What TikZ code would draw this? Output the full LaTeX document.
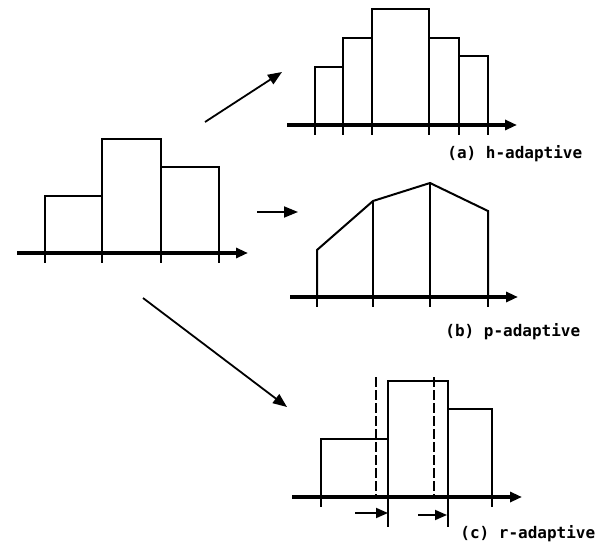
\documentclass[tikz,border=0pt]{standalone}
\usepackage{fontspec}
\newfontfamily\labelfont{DejaVu Sans Mono}
\usetikzlibrary{calc, arrows.meta}

\begin{document}
\begin{tikzpicture}[x=1pt, y=-1pt, thick,
  axis/.style={line width=3.6pt, -{Triangle[length=12pt,width=10pt]}},
  bar/.style={line width=2pt},
  tick/.style={line width=1.8pt},
  shiftline/.style={line width=2pt, dash pattern=on 10pt off 3pt},
  flow/.style={line width=1.8pt, -{Triangle[length=14pt,width=11pt]}},
  caption/.style={font=\labelfont\bfseries\fontsize{16}{18}\selectfont, anchor=west, inner sep=0pt}]
  \useasboundingbox (0,0) rectangle (605,545);
  % 原始网格：三个单元
  \foreach \xa/\xb/\yt in {45/102/196, 102/161/139, 161/219/167}
    \draw[bar] (\xa,253) rectangle (\xb,\yt);
  \coordinate (base-l) at (17,253);
  \coordinate (tip-l) at (248,253);
  \draw[axis] (base-l) -- (tip-l);
  \foreach \x in {45,102,161,219} \draw[tick] (\x,253) -- (\x,263);
  % (a) h-adaptive：单元细分
  \foreach \xa/\xb/\yt in {315/343/67, 343/372/38, 372/429/9, 429/459/38, 459/488/56}
    \draw[bar] (\xa,125) rectangle (\xb,\yt);
  \coordinate (base-a) at (287,125);
  \coordinate (tip-a) at (517,125);
  \draw[axis] (base-a) -- (tip-a);
  \foreach \x in {315,343,372,429,459,488} \draw[tick] (\x,125) -- (\x,135);
  \node[caption] (cap-a) at (447,154) {(a) h-adaptive};
  % (b) p-adaptive：提高阶次
  \draw[bar] (317,297) -- (317,250) -- (373,201) -- (430,183) -- (488,211) -- (488,297);
  \foreach \x/\yt in {373/201, 430/183} \draw[bar] (\x,297) -- (\x,\yt);
  \coordinate (base-b) at (290,297);
  \coordinate (tip-b) at (518,297);
  \draw[axis] (base-b) -- (tip-b);
  \foreach \x in {317,373,430,488} \draw[tick] (\x,297) -- (\x,307);
  \node[caption] (cap-b) at (445,332) {(b) p-adaptive};
  % (c) r-adaptive：节点移动
  \foreach \xa/\xb/\yt in {321/388/439, 388/448/381, 448/492/409}
    \draw[bar] (\xa,497) rectangle (\xb,\yt);
  \foreach \x in {376,434} \draw[shiftline] (\x,377) -- (\x,497);
  \coordinate (base-c) at (292,497);
  \coordinate (tip-c) at (522,497);
  \draw[axis] (base-c) -- (tip-c);
  \foreach \x/\yb in {321/507, 388/527, 448/527, 492/507} \draw[tick] (\x,497) -- (\x,\yb);
  \coordinate (mv1-s) at (355,513);
  \coordinate (mv1-e) at (388,513);
  \coordinate (mv2-s) at (418,515);
  \coordinate (mv2-e) at (447,515);
  \foreach \s/\e in {mv1-s/mv1-e, mv2-s/mv2-e}
    \draw[line width=1.8pt, -{Triangle[length=12pt,width=10pt]}] (\s) -- (\e);
  \node[caption] (cap-c) at (460,534) {(c) r-adaptive};
  % 三条转换箭头
  \coordinate (src-a) at (205,122);
  \coordinate (dst-a) at (282,72);
  \coordinate (src-b) at (257,212);
  \coordinate (dst-b) at (298,212);
  \coordinate (src-c) at (143,298);
  \coordinate (dst-c) at (287,407);
  \foreach \s/\e in {src-a/dst-a, src-b/dst-b, src-c/dst-c} \draw[flow] (\s) -- (\e);
\end{tikzpicture}
\end{document}
